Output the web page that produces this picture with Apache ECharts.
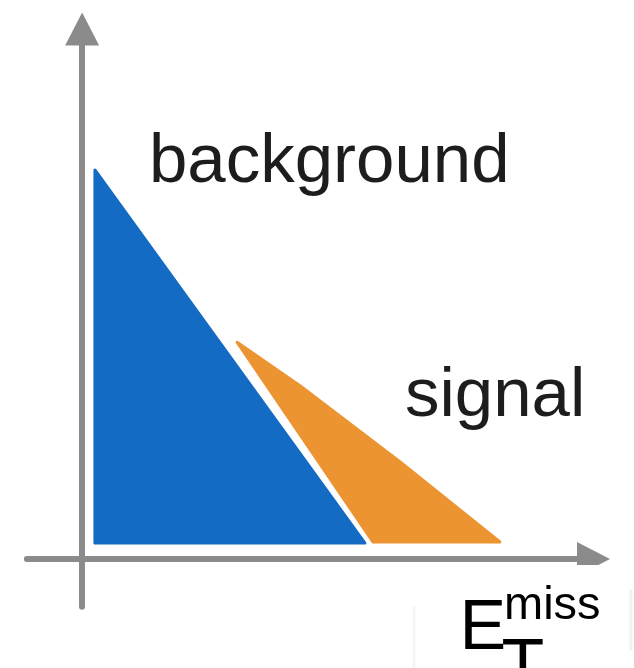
<!DOCTYPE html>
<html>
<head>
<meta charset="utf-8">
<script src="https://cdn.jsdelivr.net/npm/echarts@6/dist/echarts.min.js"></script>
<style>
  html, body { margin: 0; padding: 0; background: #ffffff; }
  #chart { width: 634px; height: 668px; }
</style>
</head>
<body>
<div id="chart"></div>
<script>
// Sketch of the missing transverse energy spectrum: background falls off early,
// signal extends to larger E_T^miss. Units are arbitrary.

// background distribution outline (vertices, x = E_T^miss, y = events)
const backgroundX = [0.25, 0.25, 5.53];
const backgroundY = [7.34, 0.30, 0.30];

// signal distribution outline
const signalX = [3.03, 4.26, 6.22, 8.17, 5.69];
const signalY = [4.09, 3.27, 1.83, 0.32, 0.32];

// axis extent
const xRange = [-1.08, 10];
const yRange = [-0.9, 10];

// labels
const seriesNames = ['background', 'signal'];
const axisLabelMain = 'E';
const axisLabelSup = 'miss';
const axisLabelSub = 'T';

const AXIS_GREY = '#8b8b8b';
const BLUE = '#146bc4';
const ORANGE = '#ec9431';
const TEXT = '#1d1d1d';
const FONT = '"Liberation Sans", Arial, sans-serif';

function polygonSeries(name, xs, ys, color) {
  return {
    name: name,
    type: 'custom',
    coordinateSystem: 'cartesian2d',
    encode: { x: 0, y: 1 },
    data: xs.map((x, i) => [x, ys[i]]),
    renderItem: function (params, api) {
      if (params.dataIndex !== 0) return null;
      const pts = xs.map((x, i) => api.coord([x, ys[i]]));
      return {
        type: 'polygon',
        shape: { points: pts },
        style: { fill: color, stroke: color, lineWidth: 3, lineJoin: 'round' }
      };
    },
    silent: true,
    z: 3
  };
}

const chart = echarts.init(document.getElementById('chart'), null, { renderer: 'canvas' });

const axisLineStyle = {
  show: true,
  onZero: true,
  symbol: ['none', 'triangle'],
  symbolSize: [34, 33],
  lineStyle: { color: AXIS_GREY, width: 6 }
};

chart.setOption({
  backgroundColor: '#ffffff',
  animation: false,
  grid: { left: 26.9, right: 40.5, top: 29, bottom: 61.3 },
  xAxis: {
    type: 'value',
    min: xRange[0],
    max: xRange[1],
    axisLine: axisLineStyle,
    axisTick: { show: false },
    axisLabel: { show: false },
    splitLine: { show: false }
  },
  yAxis: {
    type: 'value',
    min: yRange[0],
    max: yRange[1],
    axisLine: axisLineStyle,
    axisTick: { show: false },
    axisLabel: { show: false },
    splitLine: { show: false }
  },
  series: [
    polygonSeries(seriesNames[0], backgroundX, backgroundY, BLUE),
    polygonSeries(seriesNames[1], signalX, signalY, ORANGE)
  ],
  graphic: [
    {
      type: 'text',
      x: 149, y: 163,
      style: { text: seriesNames[0], fill: TEXT, font: '69px ' + FONT, verticalAlign: 'middle' },
      z: 10
    },
    {
      type: 'text',
      x: 405, y: 397,
      style: { text: seriesNames[1], fill: TEXT, font: '69px ' + FONT, verticalAlign: 'middle' },
      z: 10
    },
    // white patch behind the axis title
    {
      type: 'rect',
      shape: { x: 418, y: 565, width: 210, height: 110 },
      style: { fill: '#ffffff' },
      z: 20
    },
    {
      type: 'line',
      shape: { x1: 414, y1: 606, x2: 414, y2: 668 },
      style: { stroke: '#f5f5f5', lineWidth: 3 },
      z: 20
    },
    {
      type: 'line',
      shape: { x1: 631, y1: 590, x2: 631, y2: 650 },
      style: { stroke: '#f0f0f0', lineWidth: 3 },
      z: 20
    },
    {
      type: 'text',
      x: 459.5, y: 630,
      style: { text: axisLabelMain, fill: '#000000', font: '70px ' + FONT, verticalAlign: 'middle' },
      z: 21
    },
    {
      type: 'text',
      x: 504, y: 606,
      style: { text: axisLabelSup, fill: '#000000', font: '47px ' + FONT, verticalAlign: 'middle' },
      z: 21
    },
    {
      type: 'text',
      x: 501.5, y: 669,
      style: { text: axisLabelSub, fill: '#000000', font: '70px ' + FONT, verticalAlign: 'middle' },
      z: 21
    }
  ]
});
</script>
</body>
</html>
